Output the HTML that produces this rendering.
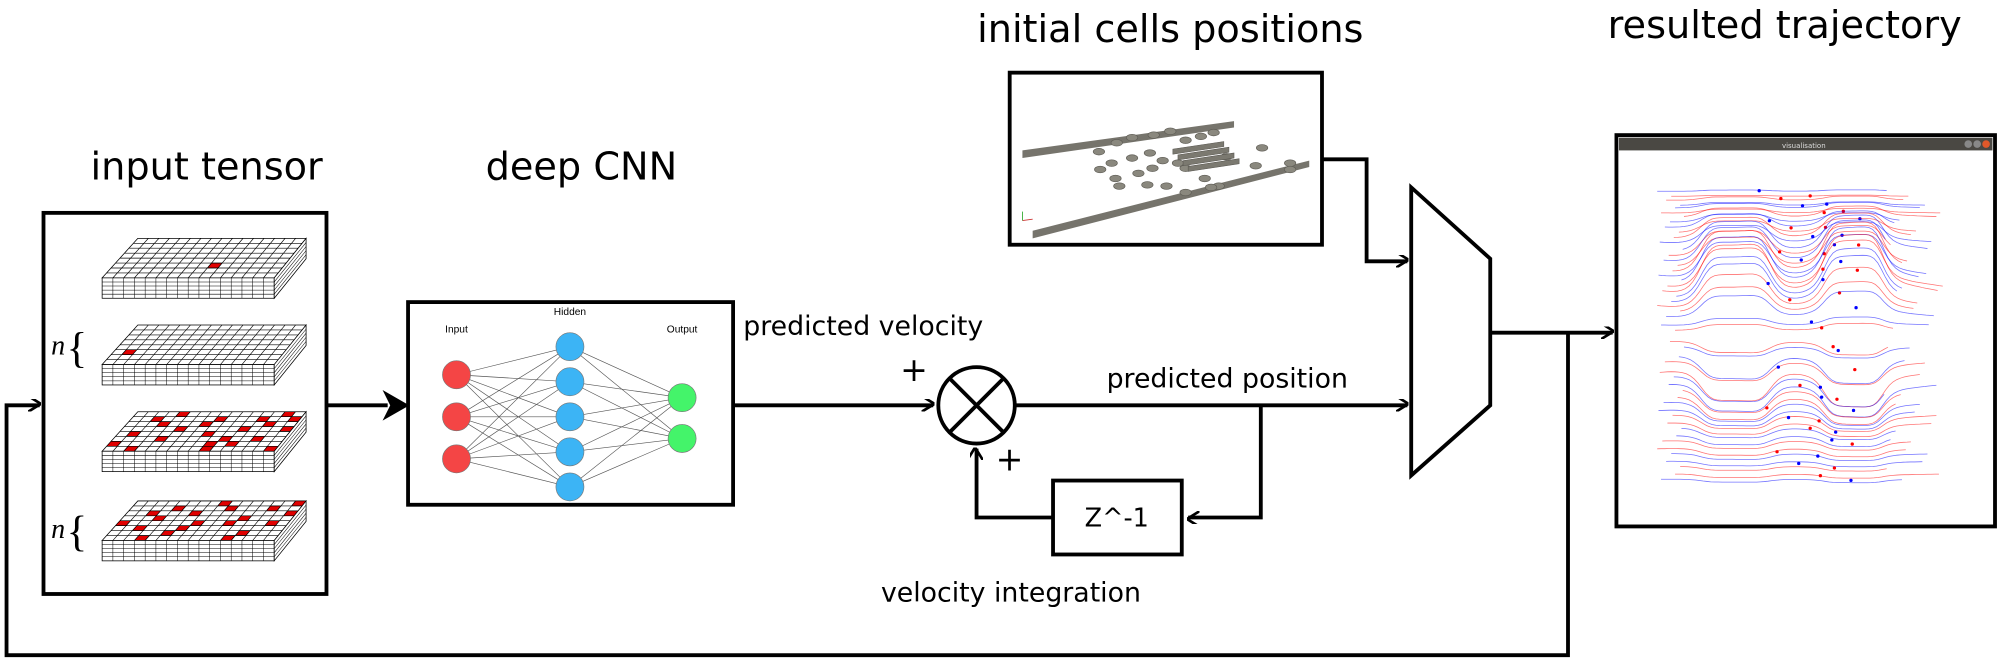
<!DOCTYPE html>
<html><head><meta charset="utf-8"><style>
html,body{margin:0;padding:0;background:#fff;}
svg{display:block;font-family:"DejaVu Sans","Liberation Sans",sans-serif;}
</style></head><body>
<svg id="s" width="1999" height="659" viewBox="0 0 1568 517" xmlns="http://www.w3.org/2000/svg">
<defs>
<marker id="ah" markerWidth="10" markerHeight="10" refX="9" refY="5" orient="auto" markerUnits="userSpaceOnUse"><path d="M0,-3 L10,5 L0,13" transform="scale(1,0.77)" fill="none" stroke="#000" stroke-width="2.5"/></marker>
</defs>
<g font-size="30" text-anchor="middle" fill="#000">
<text x="162" y="141">input tensor</text>
<text x="456" y="141">deep CNN</text>
<text x="918" y="33">initial cells positions</text>
<text x="1400" y="30">resulted trajectory</text>
</g>
<rect x="34" y="167" width="222" height="299" fill="#fff" stroke="#000" stroke-width="3"/>
<g id="slabs"></g>
<g font-family="Liberation Serif, serif" font-style="italic">
<text x="40" y="278" font-size="22">n</text>
<text x="52" y="284" font-size="34" font-style="normal">{</text>
<text x="40" y="422" font-size="22">n</text>
<text x="52" y="428" font-size="34" font-style="normal">{</text>
</g>
<g fill="none" stroke="#000" stroke-width="3">
<line x1="256" y1="318" x2="304" y2="318"/>
<path d="M300,306 L321,318 L300,330 L306,318 Z" fill="#000" stroke="none"/>
<line x1="575" y1="318" x2="732" y2="318" marker-end="url(#ah)"/>
<line x1="796" y1="318" x2="1104" y2="318" marker-end="url(#ah)"/>
<polyline points="989,318 989,406 932,406" marker-end="url(#ah)"/>
<polyline points="826,406 766,406 766,352" marker-end="url(#ah)"/>
<polyline points="1037,125 1072,125 1072,205 1104,205" marker-end="url(#ah)"/>
<line x1="1169" y1="261" x2="1265" y2="261" marker-end="url(#ah)"/>
<polyline points="1230,261 1230,514 5,514 5,318 31,318" marker-end="url(#ah)"/>
</g>
<g>
<rect x="320" y="237" width="255" height="159" fill="#fff" stroke="#000" stroke-width="3"/>
<g id="nn"></g>
<text x="358" y="261" font-size="8" text-anchor="middle" font-family="Liberation Sans,sans-serif">Input</text>
<text x="447" y="247" font-size="8" text-anchor="middle" font-family="Liberation Sans,sans-serif">Hidden</text>
<text x="535" y="261" font-size="8" text-anchor="middle" font-family="Liberation Sans,sans-serif">Output</text>
</g>
<text x="583" y="263" font-size="21">predicted velocity</text>
<text x="706" y="299" font-size="26">+</text>
<text x="781" y="369" font-size="26">+</text>
<g stroke="#000" stroke-width="3" fill="#fff">
<circle cx="766" cy="318" r="30"/>
<line x1="745" y1="297" x2="787" y2="339"/><line x1="787" y1="297" x2="745" y2="339"/>
</g>
<text x="868" y="304" font-size="21">predicted position</text>
<rect x="826" y="377" width="101" height="58" fill="#fff" stroke="#000" stroke-width="3"/>
<text x="876" y="413" font-size="20" text-anchor="middle">Z^-1</text>
<text x="691" y="472" font-size="21">velocity integration</text>
<polygon points="1107,147 1169,203 1169,318 1107,373" fill="#fff" stroke="#000" stroke-width="3"/>
<g>
<rect x="792" y="57" width="245" height="135" fill="#fff" stroke="#000" stroke-width="3"/>
<polygon points="802,118 968,95 968,100 802,124" fill="#76746c"/>
<polygon points="810,181 1027,126 1027,131 810,187" fill="#76746c"/>
<g id="disks"></g>
<g stroke-width="0.7"><line x1="802" y1="173" x2="810" y2="172" stroke="#c33"/><line x1="802" y1="173" x2="802" y2="166" stroke="#3a3"/></g>
</g>
<g>
<rect x="1268" y="106" width="297" height="307" fill="#fff" stroke="#000" stroke-width="3"/>
<rect x="1270" y="108" width="293" height="10" fill="#4a4843"/>
<text x="1415" y="116" font-size="5.5" fill="#ddd" text-anchor="middle">visualisation</text>
<circle cx="1544" cy="113" r="3" fill="#888"/><circle cx="1551" cy="113" r="3" fill="#888"/><circle cx="1558" cy="113" r="3" fill="#e0582a"/>
<g id="traj"></g>
</g>
</svg>
<script>
var NS="http://www.w3.org/2000/svg";
function mk(t,a,p){var e=document.createElementNS(NS,t);for(var k in a)e.setAttribute(k,a[k]);p.appendChild(e);return e;}
var slabTops=[187,255,323,393];
var redCells=[[[9,5]],[[1,5]],
[[4,0],[14,0],[2,1],[8,1],[12,1],[15,1],[3,2],[7,2],[13,2],[5,3],[11,3],[15,3],[1,4],[8,4],[4,5],[10,5],[13,5],[0,6],[9,6],[11,6],[2,7],[9,7],[15,7]],
[[8,0],[15,0],[4,1],[9,1],[13,1],[2,2],[6,2],[15,2],[3,3],[11,3],[0,4],[7,4],[10,4],[14,4],[2,5],[6,5],[5,6],[12,6],[3,7],[11,7]]];
var sg=document.getElementById('slabs');
slabTops.forEach(function(y0,si){
  var g=mk('g',{},sg);
  
  
  var cols=16,rows=8,bx=108,bw=132,fx=80,fw=135,dh=31,th=16;
  function P(c,r){var t=r/rows;var x0=bx+(fx-bx)*t,w=bw+(fw-bw)*t;return [x0+w*c/cols,y0+dh*t];}
  mk('polygon',{points:[P(0,0),P(cols,0),P(cols,rows),P(0,rows)].join(' '),fill:'#fff',stroke:'#000','stroke-width':0.6},g);
  redCells[si].forEach(function(rc){var c=rc[0],r=rc[1];mk('polygon',{points:[P(c,r),P(c+1,r),P(c+1,r+1),P(c,r+1)].join(' '),fill:'#e00000',stroke:'#000','stroke-width':0.4},g);});
  for(var c=1;c<cols;c++)mk('line',{x1:P(c,0)[0],y1:y0,x2:P(c,rows)[0],y2:y0+dh,stroke:'#000','stroke-width':0.5},g);
  for(var r=1;r<rows;r++)mk('line',{x1:P(0,r)[0],y1:P(0,r)[1],x2:P(cols,r)[0],y2:P(cols,r)[1],stroke:'#000','stroke-width':0.5},g);
  var f=P(0,rows),fr=P(cols,rows),br=P(cols,0);
  mk('rect',{x:f[0],y:f[1],width:fr[0]-f[0],height:th,fill:'#fff',stroke:'#000','stroke-width':0.6},g);
  mk('polygon',{points:[fr,br,[br[0],br[1]+th],[fr[0],fr[1]+th]].join(' '),fill:'#fff',stroke:'#000','stroke-width':0.6},g);
  for(var k=1;k<5;k++){mk('line',{x1:f[0],y1:f[1]+th*k/5,x2:fr[0],y2:fr[1]+th*k/5,stroke:'#000','stroke-width':0.4},g);
    mk('line',{x1:fr[0],y1:fr[1]+th*k/5,x2:br[0],y2:br[1]+th*k/5,stroke:'#000','stroke-width':0.4},g);}
  for(var c=1;c<cols;c++){var x=f[0]+(fr[0]-f[0])*c/cols;mk('line',{x1:x,y1:f[1],x2:x,y2:f[1]+th,stroke:'#000','stroke-width':0.4},g);}
});
var inY=[294,327,360],hidY=[272,299.5,327,354.5,382],outY=[312,344];
var nn=document.getElementById('nn');
inY.forEach(function(a){hidY.forEach(function(b){mk('line',{x1:358,y1:a,x2:447,y2:b,stroke:'#555','stroke-width':0.5},nn);});});
hidY.forEach(function(a){outY.forEach(function(b){mk('line',{x1:447,y1:a,x2:535,y2:b,stroke:'#555','stroke-width':0.5},nn);});});
inY.forEach(function(y){var e=mk('circle',{cx:358,cy:y,r:11,fill:'#f44545',stroke:'#777','stroke-width':0.5},nn);});
hidY.forEach(function(y){var e=mk('circle',{cx:447,cy:y,r:11,fill:'#3cb4f5',stroke:'#777','stroke-width':0.5},nn);});
outY.forEach(function(y){var e=mk('circle',{cx:535,cy:y,r:11,fill:'#44f46a',stroke:'#777','stroke-width':0.5},nn);});
var diskX=[876,888,905,918,930,942,952,862,872,888,902,912,924,962,990,1012,1012,863,875,893,904,930,945,956,985,878,900,915,930,950];
var diskY=[112,108,106,103,110,107,104,119,128,124,120,126,128,123,116,128,133,133,140,136,132,132,140,146,130,146,145,146,151,147];
var dg=document.getElementById('disks');
diskX.forEach(function(x,i){mk('ellipse',{cx:x,cy:diskY[i],rx:4.5,ry:2.6,fill:'#8a887e',stroke:'#5f5d56','stroke-width':0.5},dg);});
for(var k=0;k<4;k++)mk('polygon',{points:[[920+k*4,117+k*4.5],[960+k*4,111+k*4.5],[960+k*4,115+k*4.5],[920+k*4,121+k*4.5]].join(' '),fill:'#7b7970',stroke:'#55534d','stroke-width':0.4},dg);
// trajectories: row baselines, bump amplitudes (negative=up), colours
var tBase=[150,157,163,170,178,186,196,204,212,220,228,236,244,255,268,280,292,302,312,322,332,342,352,362,372];
var tAmp=[-1,-3,-4,-8,-12,-18,-26,-30,-36,-40,-42,-34,-22,-6,10,20,26,24,20,14,10,8,6,4,3];
var tCol=['blue','red','blue','red','blue','red','blue','blue','red','blue','red','blue','red','blue','red','blue','red','blue','red','blue','red','blue','red','blue','red'];
var tr=document.getElementById('traj');
function bump(u,c,w){var d=(u-c)/w;return 1/(1+Math.pow(d,6));}
tBase.forEach(function(y,i){
  for(var j=0;j<2;j++){
    var d='',yy=y+j*4,x0=1300+((i*7+j*11)%22),x1=1480+((i*13+j*17)%45);
    for(var x=x0;x<=x1;x+=3){
      var u=(x-1300)/220;
      var v=bump(u,0.28,0.13)+0.9*bump(u,0.7,0.11)-0.15*Math.sin(u*6.28);
      d+=(x==x0?'M':'L')+x+','+(yy+tAmp[i]*v*(j?0.85:1)).toFixed(1);
    }
    var c=j?(tCol[i]=='red'?'blue':'red'):tCol[i];
    mk('path',{d:d,fill:'none',stroke:c,'stroke-width':0.6,'stroke-opacity':0.55},tr);
  }
  mk('circle',{cx:1380+(i*17)%60,cy:y+tAmp[i]*0.4,r:1.3,fill:tCol[i]},tr);
  mk('circle',{cx:1420+(i*13)%40,cy:y+4+tAmp[i]*0.3,r:1.3,fill:tCol[i]=='red'?'blue':'red'},tr);
});
</script>
</body></html>
